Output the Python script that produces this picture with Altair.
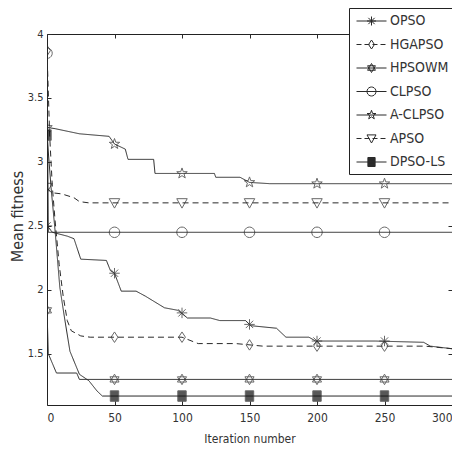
import math
import altair as alt
import pandas as pd

# ---------------- data ----------------
series_names = ["OPSO", "HGAPSO", "HPSOWM", "CLPSO", "A-CLPSO", "APSO", "DPSO-LS"]

opso_x = [0, 4, 15, 20, 25, 44, 47, 50, 55, 66, 73, 87, 97, 104, 121, 128, 147, 151, 170, 177, 194, 199, 243, 279, 284, 300]
opso_y = [2.50, 2.45, 2.42, 2.40, 2.24, 2.23, 2.15, 2.13, 1.99, 1.99, 1.95, 1.86, 1.84, 1.78, 1.78, 1.76, 1.76, 1.72, 1.70, 1.63, 1.63, 1.60, 1.60, 1.59, 1.56, 1.54]

hgapso_x = [0, 2, 4, 6, 9, 12, 15, 18, 25, 32, 100, 112, 140, 160, 280, 300]
hgapso_y = [3.87, 3.20, 2.80, 2.54, 2.20, 1.95, 1.76, 1.68, 1.64, 1.63, 1.63, 1.58, 1.58, 1.56, 1.56, 1.54]

hpsowm_x = [0, 1, 7, 22, 24, 300]
hpsowm_y = [1.84, 1.50, 1.35, 1.35, 1.30, 1.30]

clpso_x = [0, 1, 300]
clpso_y = [3.85, 2.45, 2.45]

aclpso_x = [0, 6, 24, 46, 50, 58, 60, 79, 80, 124, 125, 143, 150, 165, 300]
aclpso_y = [3.27, 3.26, 3.22, 3.20, 3.14, 3.10, 3.02, 3.02, 2.91, 2.91, 2.88, 2.88, 2.84, 2.83, 2.83]

apso_x = [0, 3, 11, 20, 24, 31, 300]
apso_y = [2.80, 2.76, 2.75, 2.72, 2.69, 2.68, 2.68]

dpsols_x = [0, 3, 6, 9.5, 13, 17, 24, 31, 37, 41, 300]
dpsols_y = [3.21, 2.80, 2.46, 2.02, 1.78, 1.52, 1.34, 1.29, 1.21, 1.17, 1.17]

marker_iters = [0, 50, 100, 150, 200, 250]
opso_m = [2.50, 2.13, 1.82, 1.73, 1.60, 1.60]
hgapso_m = [3.87, 1.63, 1.63, 1.57, 1.56, 1.56]
hpsowm_m = [1.84, 1.30, 1.30, 1.30, 1.30, 1.30]
clpso_m = [3.85, 2.45, 2.45, 2.45, 2.45, 2.45]
aclpso_m = [3.27, 3.14, 2.91, 2.84, 2.83, 2.83]
apso_m = [2.80, 2.68, 2.68, 2.68, 2.68, 2.68]
dpsols_m = [3.21, 1.17, 1.17, 1.17, 1.17, 1.17]

x_ticks = [0, 50, 100, 150, 200, 250, 300]
y_ticks = [1.5, 2, 2.5, 3, 3.5, 4]

# ---------------- tables ----------------
curves = {
    "OPSO": (opso_x, opso_y), "HGAPSO": (hgapso_x, hgapso_y), "HPSOWM": (hpsowm_x, hpsowm_y),
    "CLPSO": (clpso_x, clpso_y), "A-CLPSO": (aclpso_x, aclpso_y), "APSO": (apso_x, apso_y),
    "DPSO-LS": (dpsols_x, dpsols_y),
}
marks = {
    "OPSO": opso_m, "HGAPSO": hgapso_m, "HPSOWM": hpsowm_m, "CLPSO": clpso_m,
    "A-CLPSO": aclpso_m, "APSO": apso_m, "DPSO-LS": dpsols_m,
}
line_rows = []
for s in series_names:
    xs, ys = curves[s]
    for i, (a, b) in enumerate(zip(xs, ys)):
        line_rows.append({"series": s, "it": a, "val": b, "k": i})
line_df = pd.DataFrame(line_rows)
mark_df = pd.DataFrame([{"series": s, "it": a, "val": b}
                        for s in series_names for a, b in zip(marker_iters, marks[s])])

# ---------------- marker geometry (style only) ----------------
def polygon(n, r=1.0, start=-90.0, r_in=None):
    pts = []
    m = n * 2 if r_in else n
    for i in range(m):
        ang = math.radians(start + 360.0 * i / m)
        rr = (r if i % 2 == 0 else r_in) if r_in else r
        pts.append((rr * math.cos(ang), rr * math.sin(ang)))
    return pts

shape_polys = {
    "OPSO": [([(-1, 0), (1, 0)], False), ([(0, -1), (0, 1)], False),
             ([(-0.7, -0.7), (0.7, 0.7)], False), ([(-0.7, 0.7), (0.7, -0.7)], False)],
    "HGAPSO": [([(0, -1), (0.65, 0), (0, 1), (-0.65, 0)], True)],
    "HPSOWM": [([(0, -1), (0.87, 0.5), (-0.87, 0.5)], True), ([(0, 1), (0.87, -0.5), (-0.87, -0.5)], True)],
    "CLPSO": [(polygon(20, 1.0), True)],
    "A-CLPSO": [(polygon(5, 1.05, -90, 0.42), True)],
    "APSO": [([(-1, -0.8), (1, -0.8), (0, 1)], True)],
    "DPSO-LS": [([(-0.8, -1), (0.8, -1), (0.8, 1), (-0.8, 1)], True)],
}

def fmt(v):
    return f"{v:.3f}".rstrip("0").rstrip(".") if abs(v) > 1e-9 else "0"

def poly_path(polys, scale=1.0, dx=0.0):
    out = []
    for pts, closed in polys:
        seg = "M" + " L".join(f"{fmt(dx + scale * px)},{fmt(scale * py)}" for px, py in pts)
        if closed:
            seg += "Z"
        out.append(seg)
    return "".join(out)

plot_shapes = [poly_path(shape_polys[s]) for s in series_names]

# legend symbols: line + marker, in units of 7.5px (symbolSize 225)
U = 7.5
L0, L1, MC, MS = -5.5 / U, 24.5 / U, 9.5 / U, 0.6
dashed = {"HGAPSO", "APSO"}

def legend_path(s):
    parts = []
    if s in dashed:
        a = L0
        while a < L1:
            b = min(a + 5 / U, L1)
            parts.append(f"M{fmt(a)},0L{fmt(b)},0")
            a = b + 3 / U
    else:
        parts.append(f"M{fmt(L0)},0L{fmt(L1)},0")
    parts.append(poly_path(shape_polys[s], MS, MC))
    if s == "DPSO-LS":
        yy = -MS
        while yy <= MS + 1e-6:
            parts.append(f"M{fmt(MC - 0.8 * MS)},{fmt(yy)}L{fmt(MC + 0.8 * MS)},{fmt(yy)}")
            yy += 1 / U
    return "".join(parts)

legend_shapes = [legend_path(s) for s in series_names]
dash_range = [[6, 4] if s in dashed else [1, 0] for s in series_names]

FONT = "'DejaVu Sans Condensed', 'Liberation Sans Narrow', 'Liberation Sans', sans-serif"
INK = "#2a2a2a"
TXT = "#333333"

xscale = alt.Scale(domain=[0, 300], nice=False, zero=False)
yscale = alt.Scale(domain=[1.1, 4], nice=False, zero=False)

lines = alt.Chart(line_df).mark_line(color=INK, strokeWidth=1, clip=True).encode(
    x=alt.X("it:Q", scale=xscale, axis=alt.Axis(
        orient="bottom", values=x_ticks, title="Iteration number", tickSize=4, offset=-4,
        domain=False, grid=False, labelPadding=7, titlePadding=10, tickColor=INK,
        titleFontSize=12)),
    y=alt.Y("val:Q", scale=yscale, axis=alt.Axis(
        orient="left", values=y_ticks, format="~g", title="Mean fitness", tickSize=4, offset=-4,
        domain=False, grid=False, labelPadding=4, tickColor=INK, labelFontSize=11,
        titleFontSize=16, titleX=-34, titleY=182, titleBaseline="middle")),
    detail="series:N",
    order="k:Q",
    strokeDash=alt.StrokeDash("series:N", scale=alt.Scale(domain=series_names, range=dash_range), legend=None),
)

points = alt.Chart(mark_df).mark_point(color=INK, strokeWidth=1, size=110, filled=False, clip=True).encode(
    x=alt.X("it:Q", scale=xscale, axis=alt.Axis(
        orient="top", values=x_ticks, labels=False, title=None, tickSize=4, offset=-4,
        domain=False, grid=False, tickColor=INK)),
    y=alt.Y("val:Q", scale=yscale, axis=alt.Axis(
        orient="right", values=y_ticks, labels=False, title=None, tickSize=4, offset=-4,
        domain=False, grid=False, tickColor=INK)),
    shape=alt.Shape("series:N", scale=alt.Scale(domain=series_names, range=plot_shapes), legend=None),
    fill=alt.condition("datum.series == 'DPSO-LS'", alt.value("#111111"), alt.value("transparent")),
)

legend_layer = alt.Chart(mark_df).mark_point(color=INK, strokeWidth=1, filled=False, opacity=0).encode(
    x=alt.X("it:Q", scale=xscale, axis=None),
    y=alt.Y("val:Q", scale=yscale, axis=None),
    shape=alt.Shape("series:N", scale=alt.Scale(domain=series_names, range=legend_shapes),
                    legend=alt.Legend(
                        title=None, orient="none", legendX=302, legendY=-26, padding=5,
                        strokeColor="#222222", fillColor="white", symbolSize=225,
                        symbolStrokeWidth=1, symbolStrokeColor=INK, symbolOpacity=1,
                        labelFont=FONT, labelFontSize=14, labelColor=TXT, labelOffset=20,
                        rowPadding=8.5, symbolFillColor="transparent")),
)

chart = alt.layer(lines, points, legend_layer).resolve_scale(
    shape="independent"
).resolve_axis(x="independent", y="independent").properties(
    width=405, height=371,
    autosize=alt.AutoSizeParams(type="none"),
    padding={"left": 39, "top": 26, "right": 0, "bottom": 40},
    background="white",
).configure_view(stroke="#222222", strokeWidth=1).configure_axis(
    labelFont=FONT, labelFontSize=12, labelColor=TXT, titleFont=FONT, titleFontSize=13,
    titleColor=TXT, titleFontWeight="normal",
)

chart.save("out.html", embed_options={"renderer": "svg", "actions": False})
